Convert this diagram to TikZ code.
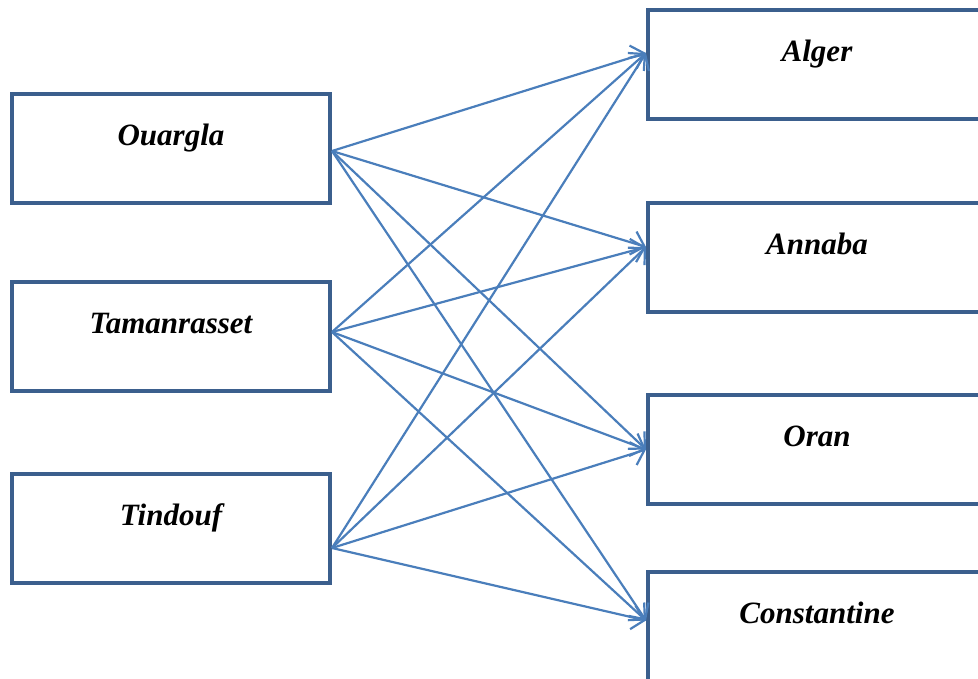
\documentclass[tikz,border=0pt]{standalone}
\usepackage{fontspec}
\setmainfont{Liberation Serif}
\usetikzlibrary{arrows.meta}
\definecolor{boxline}{HTML}{3B5F8D}
\definecolor{arrowline}{HTML}{4A7EBB}
\tikzset{
  city/.style={draw=boxline, line width=4pt, fill=white, inner sep=0pt,
    minimum width=318pt, minimum height=109pt, text height=21pt, text depth=27pt,
    font=\fontsize{31}{36}\selectfont\bfseries\itshape},
  link/.style={draw=arrowline, line width=2.2pt,
    -{Straight Barb[length=12pt,width=24pt,line width=2.2pt]}}
}
\begin{document}
\begin{tikzpicture}[x=1pt,y=-1pt]
      \useasboundingbox (0,0) rectangle (978,678);
      \node[city] (ouargla) at (171,148) {Ouargla};
      \node[city] (taman) at (171,336) {Tamanrasset};
      \node[city] (tindouf) at (171,528) {Tindouf};
      \node[city, minimum width=338pt] (alger) at (817,64.5) {Alger};
      \node[city, minimum width=338pt] (annaba) at (817,257) {Annaba};
      \node[city, minimum width=338pt] (oran) at (817,449.5) {Oran};
      \node[city, minimum width=338pt] (const) at (817,626.5) {Constantine};
      \begin{scope}[link]
        \draw ([yshift=-3pt]ouargla.east) to ([yshift=11.5pt]alger.west);
        \draw ([yshift=-3pt]ouargla.east) to ([yshift=10pt]annaba.west);
        \draw ([yshift=-3pt]ouargla.east) to (oran.west);
        \draw ([yshift=-3pt]ouargla.east) to ([yshift=6pt]const.west);
        \draw ([yshift=4pt]taman.east) to ([yshift=11.5pt]alger.west);
        \draw ([yshift=4pt]taman.east) to ([yshift=10pt]annaba.west);
        \draw ([yshift=4pt]taman.east) to (oran.west);
        \draw ([yshift=4pt]taman.east) to ([yshift=6pt]const.west);
        \draw ([yshift=-20pt]tindouf.east) to ([yshift=11.5pt]alger.west);
        \draw ([yshift=-20pt]tindouf.east) to ([yshift=10pt]annaba.west);
        \draw ([yshift=-20pt]tindouf.east) to (oran.west);
        \draw ([yshift=-20pt]tindouf.east) to ([yshift=6pt]const.west);
      \end{scope}
    \end{tikzpicture}
\end{document}
